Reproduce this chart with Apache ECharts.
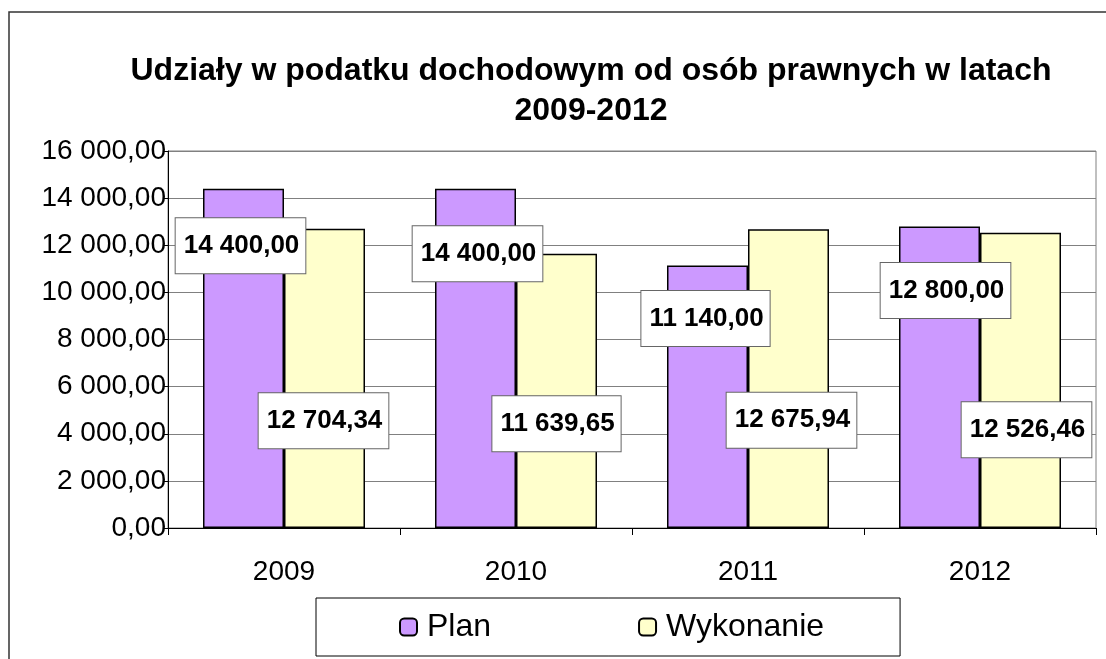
<!DOCTYPE html>
<html>
<head>
<meta charset="utf-8">
<script src="https://cdn.jsdelivr.net/npm/echarts@6/dist/echarts.min.js"></script>
<style>
  html, body { margin: 0; padding: 0; background: #fff; }
  #chart { width: 1106px; height: 659px; }
</style>
</head>
<body>
<div id="chart"></div>
<script>
const categories = ["2009", "2010", "2011", "2012"];
const planValues = [14400.0, 14400.0, 11140.0, 12800.0];
const wykonanieValues = [12704.34, 11639.65, 12675.94, 12526.46];
const yTicks = [0, 2000, 4000, 6000, 8000, 10000, 12000, 14000, 16000];

// label box placement: [dx, distance from bar top]
const planLabelPos = [[-3, 57], [2, 65], [-2, 53], [6, 64]];
const wykLabelPos = [[-1, 192], [0, 170], [3, 191], [6, 197]];

function plNumber(v) {
  const parts = Number(v).toFixed(2).split(".");
  const intPart = parts[0].replace(/\B(?=(\d{3})+(?!\d))/g, " ");
  return intPart + "," + parts[1];
}

const labelBase = {
  show: true,
  formatter: (p) => plNumber(p.value),
  fontFamily: "Liberation Sans, Arial, sans-serif",
  fontWeight: "bold",
  fontSize: 26,
  color: "#000",
  backgroundColor: "#fff",
  borderColor: "#666",
  borderWidth: 1,
  padding: [15, 6, 14, 8],
  align: "center",
  verticalAlign: "middle",
};

function withLabels(values, pos) {
  return values.map((v, i) => ({
    value: v,
    label: { position: ["50%", pos[i][1]], offset: [pos[i][0], 0] },
  }));
}

const chart = echarts.init(document.getElementById("chart"));
chart.setOption({
  animation: false,
  textStyle: { fontFamily: "Liberation Sans, Arial, sans-serif" },
  title: {
    text: "Udziały w podatku dochodowym od osób prawnych w latach\n2009-2012",
    left: 586,
    top: 46,
    textAlign: "center",
    textStyle: {
      fontFamily: "Liberation Sans, Arial, sans-serif",
      fontWeight: "bold",
      fontSize: 32,
      lineHeight: 40,
      color: "#000",
    },
  },
  graphic: [
    {
      type: "rect",
      shape: { x: 9, y: 12, width: 1200, height: 700 },
      style: { fill: null, stroke: "#333", lineWidth: 1.5 },
      silent: true,
    },
  ],
  legend: {
    left: 316,
    top: 598,
    padding: [12, 76, 12, 83],
    itemGap: 147,
    itemWidth: 17,
    itemHeight: 17,
    borderColor: "#000",
    borderWidth: 1,
    textStyle: {
      fontFamily: "Liberation Sans, Arial, sans-serif",
      fontSize: 32,
      lineHeight: 34,
      padding: [0, 0, 0, 5],
      color: "#000",
    },
    data: ["Plan", "Wykonanie"],
  },
  grid: {
    left: 168,
    top: 151,
    right: 10,
    bottom: 131,
    show: true,
    borderColor: "#808080",
    borderWidth: 1,
  },
  xAxis: {
    type: "category",
    data: categories,
    axisLine: { lineStyle: { color: "#000", width: 1 } },
    axisTick: { show: true, length: 7, lineStyle: { color: "#000" } },
    axisLabel: {
      fontSize: 28,
      color: "#000",
      margin: 30,
      fontFamily: "Liberation Sans, Arial, sans-serif",
    },
  },
  yAxis: {
    type: "value",
    min: yTicks[0],
    max: yTicks[yTicks.length - 1],
    interval: yTicks[1] - yTicks[0],
    axisLine: { show: true, lineStyle: { color: "#000", width: 1 } },
    axisTick: { show: true, length: 5, lineStyle: { color: "#000" } },
    axisLabel: {
      fontSize: 28,
      color: "#000",
      margin: 2,
      formatter: (v) => plNumber(v),
      fontFamily: "Liberation Sans, Arial, sans-serif",
    },
    splitLine: { lineStyle: { color: "#808080", width: 1 } },
  },
  series: [
    {
      name: "Plan",
      type: "bar",
      barWidth: 81,
      barGap: "0%",
      itemStyle: { color: "#CC99FF", borderColor: "#000", borderWidth: 1.5 },
      label: labelBase,
      data: withLabels(planValues, planLabelPos),
    },
    {
      name: "Wykonanie",
      type: "bar",
      barWidth: 81,
      itemStyle: { color: "#FFFFCC", borderColor: "#000", borderWidth: 1.5 },
      label: labelBase,
      data: withLabels(wykonanieValues, wykLabelPos),
    },
  ],
});
window.addEventListener("resize", () => {
  chart && chart.resize();
});
</script>
</body>
</html>
